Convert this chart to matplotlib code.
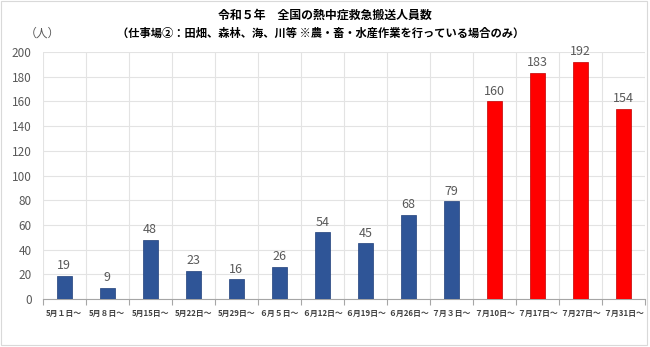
import numpy as np
import matplotlib.pyplot as plt
from matplotlib.patches import Rectangle

plt.rcParams['font.family'] = ['Noto Sans CJK JP', 'DejaVu Sans']

## datos
etiquetas = ['5月１日～', '5月８日～', '5月15日～', '5月22日～', '5月29日～',
             '６月５日～', '６月12日～', '６月19日～', '６月26日～', '７月３日～',
             '７月10日～', '７月17日～', '７月27日～', '７月31日～']
valores = [19, 9, 48, 23, 16, 26, 54, 45, 68, 79, 160, 183, 192, 154]
n_azul = 10   # las primeras semanas en azul, el resto en rojo
yticks = [0, 20, 40, 60, 80, 100, 120, 140, 160, 180, 200]

titulo = '令和５年　全国の熱中症救急搬送人員数'
subtitulo = '（仕事場②：田畑、森林、海、川等 ※農・畜・水産作業を行っている場合のみ）'
unidad = '（人）'

azul = '#2F5597'
rojo = '#FF0000'
gris_txt = '#595959'
gris_grid = '#E3E3E3'

fig = plt.figure(figsize=(6.5, 3.47), dpi=100)
ax = fig.add_axes([0.0657, 0.1383, 0.9263, 0.7117])

x = np.arange(len(valores))
colores = [azul if i < n_azul else rojo for i in range(len(valores))]
bordes = ['#1F3F7A' if i < n_azul else '#C00000' for i in range(len(valores))]
ax.bar(x, valores, width=0.34, color=colores, edgecolor=bordes, linewidth=0.5, zorder=3)

for xi, v in zip(x, valores):
    ax.text(xi, v + 3, str(v), ha='center', va='bottom', fontsize=9, color=gris_txt, zorder=4)

ax.set_xlim(-0.5, len(valores) - 0.5)
ax.set_ylim(0, 200)
ax.set_yticks(yticks)
ax.tick_params(axis='y', length=0, labelsize=8.5, labelcolor=gris_txt, pad=8)

# etiquetas en el centro, marcas en los limites
ax.set_xticks(x)
ax.set_xticklabels(etiquetas, fontsize=5.7, fontweight='bold', color='#404040')
ax.tick_params(axis='x', which='major', length=0, pad=7)
ax.set_xticks(np.arange(-0.5, len(valores), 1.0), minor=True)
ax.tick_params(axis='x', which='minor', length=4, color='#A6A6A6', width=0.8)

ax.grid(True, axis='y', color=gris_grid, linewidth=0.8, zorder=0)
ax.grid(True, axis='x', which='minor', color=gris_grid, linewidth=0.8, zorder=0)
ax.grid(False, axis='x', which='major')

for s in ['top', 'right', 'left']:
    ax.spines[s].set_visible(False)
ax.spines['bottom'].set_color('#A6A6A6')
ax.spines['bottom'].set_linewidth(0.8)

fig.text(0.5, 1 - 15 / 347, titulo, ha='center', va='center', fontsize=8.6, fontweight='bold', color='#000000')
fig.text(0.494, 1 - 33 / 347, subtitulo, ha='center', va='center', fontsize=8.1, fontweight='bold', color='#000000')
fig.text(42 / 650, 1 - 33 / 347, unidad, ha='center', va='center', fontsize=8.5, color=gris_txt)

# marco del grafico
fig.patches.append(Rectangle((0.002, 0.006), 0.994, 0.99, transform=fig.transFigure,
                             fill=False, edgecolor='#D9D9D9', linewidth=0.8))

fig.savefig('out.png', dpi=100)
